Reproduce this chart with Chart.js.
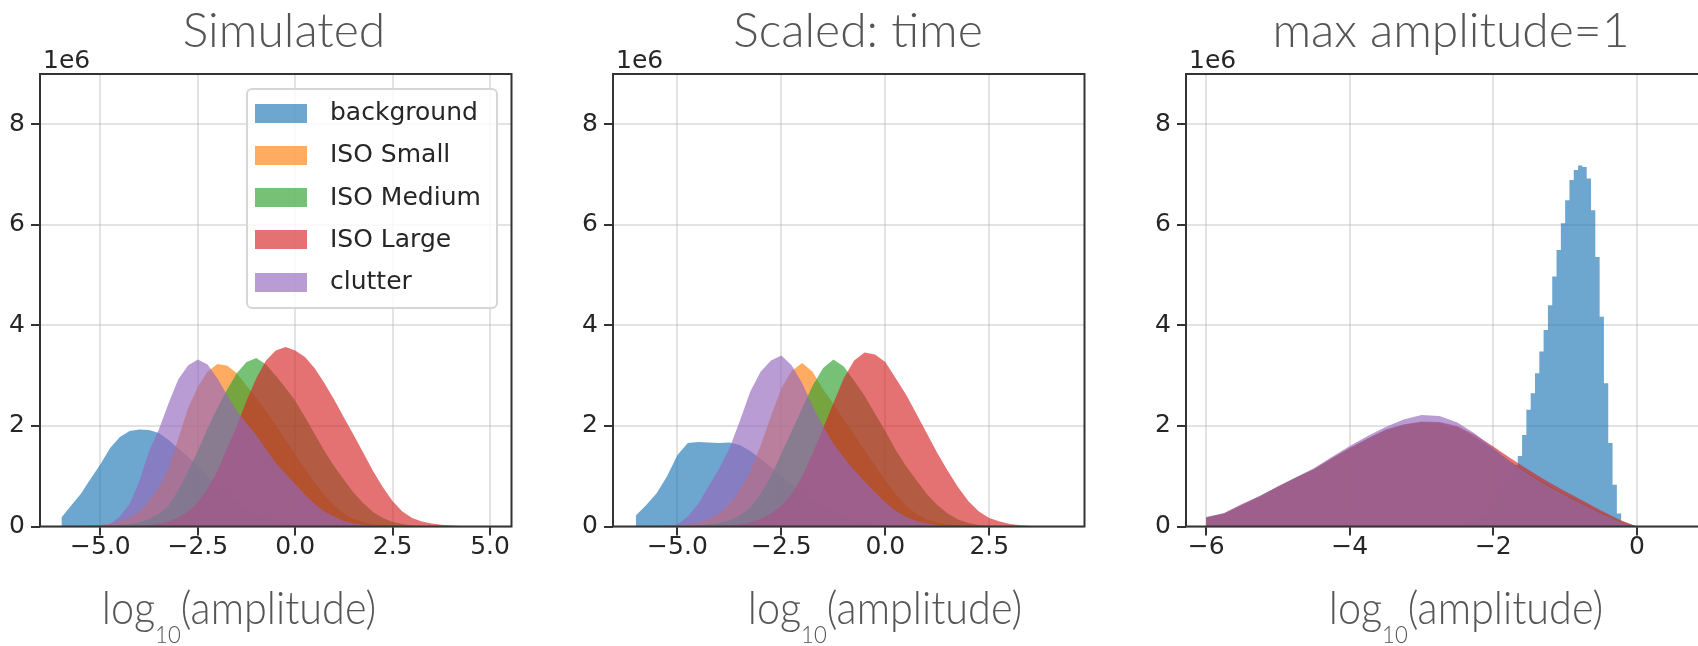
<!DOCTYPE html>
<html>
<head>
<meta charset="utf-8">
<script src="https://cdn.jsdelivr.net/npm/chart.js@4.4.1/dist/chart.umd.min.js"></script>
<style>
  html, body { margin: 0; padding: 0; background: #fff; overflow: hidden; }
  body { width: 1698px; height: 646px; position: relative; }
  canvas { position: absolute; top: 0; }
  .title, .xlabel {
    position: absolute; white-space: nowrap;
    font-family: "Lato", "Open Sans", sans-serif; font-weight: 300; color: #555;
  }
  .title { top: 5px; font-size: 48px; line-height: 48px; transform: translateX(-50%); }
  .xlabel { top: 585px; font-size: 45px; line-height: 45px; transform: translateX(-50%) scaleX(0.92); }
  .xlabel sub { font-size: 24px; line-height: 0; vertical-align: -19px; }
  .offset {
    position: absolute; top: 47px; font-family: "DejaVu Sans"; font-size: 25px;
    line-height: 25px; color: #262626;
  }
  #legend {
    position: absolute; left: 246px; top: 88px; width: 252px; height: 221px;
    box-sizing: border-box; border: 2px solid #d6d6d6; border-radius: 6px;
    background: rgba(255,255,255,0.8);
  }
  #legend .sw { position: absolute; left: 7px; width: 52px; height: 19px; }
  #legend .lb {
    position: absolute; left: 82px; font-family: "DejaVu Sans"; font-size: 25px;
    line-height: 30px; color: #262626; white-space: nowrap;
  }
</style>
</head>
<body>
<canvas id="sim" width="566" height="646" style="left:0px"></canvas>
<canvas id="time" width="566" height="646" style="left:566px"></canvas>
<canvas id="maxamp" width="580" height="646" style="left:1132px"></canvas>

<div class="title" style="left:284px">Simulated</div>
<div class="title" style="left:858px">Scaled: time</div>
<div class="title" style="left:1451px">max amplitude=1</div>

<div class="offset" style="left:43px">1e6</div>
<div class="offset" style="left:616px">1e6</div>
<div class="offset" style="left:1189px">1e6</div>

<div class="xlabel" style="left:239px">log<sub>10</sub>(amplitude)</div>
<div class="xlabel" style="left:885px">log<sub>10</sub>(amplitude)</div>
<div class="xlabel" style="left:1466px">log<sub>10</sub>(amplitude)</div>

<div id="legend"></div>

<script>
// counts in units of 1e6, bin centres in log10(amplitude)
const labels = ['background', 'ISO Small', 'ISO Medium', 'ISO Large', 'clutter'];
const colors = ['rgba(31,119,180,0.65)', 'rgba(255,127,14,0.65)', 'rgba(44,160,44,0.65)',
                'rgba(214,39,40,0.65)', 'rgba(148,103,189,0.65)'];

const bins = [-6.0, -5.75, -5.5, -5.25, -5.0, -4.75, -4.5, -4.25, -4.0, -3.75, -3.5, -3.25,
              -3.0, -2.75, -2.5, -2.25, -2.0, -1.75, -1.5, -1.25, -1.0, -0.75, -0.5, -0.25,
              0.0, 0.25, 0.5, 0.75, 1.0, 1.25, 1.5, 1.75, 2.0, 2.25, 2.5, 2.75, 3.0, 3.25,
              3.5, 3.75, 4.0, 4.25, 4.5, 4.75, 5.0];

// Simulated
const simBackground = [0.18, 0.42, 0.65, 0.95, 1.24, 1.56, 1.78, 1.90, 1.93, 1.92, 1.86, 1.72,
                       1.55, 1.38, 1.20, 1.00, 0.82, 0.65, 0.50, 0.37, 0.27, 0.18, 0.12, 0.08,
                       0.05, 0.03, 0.02, 0.01, 0];
const simSmall = [0, 0, 0.01, 0.02, 0.03, 0.05, 0.10, 0.18, 0.30, 0.50, 0.78, 1.15,
                  1.75, 2.35, 2.78, 3.08, 3.23, 3.20, 3.05, 2.80, 2.56, 2.30, 2.02, 1.73,
                  1.44, 1.15, 0.87, 0.62, 0.42, 0.26, 0.15, 0.09, 0.05, 0.03, 0.01, 0];
const simMedium = [0, 0, 0, 0, 0.01, 0.02, 0.03, 0.05, 0.08, 0.15, 0.25, 0.42,
                   0.72, 1.10, 1.50, 1.95, 2.35, 2.72, 3.05, 3.27, 3.35, 3.22, 3.00, 2.76,
                   2.50, 2.18, 1.84, 1.50, 1.20, 0.93, 0.67, 0.46, 0.29, 0.17, 0.09, 0.05,
                   0.02, 0.01, 0];
const simLarge = [0, 0, 0, 0, 0, 0, 0, 0, 0.01, 0.03, 0.06, 0.10,
                  0.18, 0.30, 0.48, 0.75, 1.10, 1.55, 2.00, 2.50, 2.95, 3.30, 3.50, 3.57,
                  3.50, 3.37, 3.15, 2.85, 2.52, 2.17, 1.82, 1.46, 1.10, 0.78, 0.50, 0.30,
                  0.17, 0.10, 0.06, 0.035, 0.02, 0.008, 0];
const simClutter = [0, 0.01, 0.01, 0.02, 0.03, 0.05, 0.20, 0.45, 0.90, 1.50, 1.93, 2.45,
                    2.93, 3.20, 3.32, 3.22, 2.95, 2.62, 2.30, 2.05, 1.82, 1.53, 1.27, 1.05,
                    0.84, 0.63, 0.45, 0.30, 0.20, 0.11, 0.06, 0.03, 0.015, 0.005, 0];

// Scaled: time
const timeBackground = [0.22, 0.43, 0.66, 1.00, 1.42, 1.66, 1.68, 1.67, 1.66, 1.67, 1.62, 1.50,
                        1.35, 1.18, 1.00, 0.83, 0.67, 0.52, 0.40, 0.30, 0.21, 0.14, 0.09, 0.06,
                        0.04, 0.02, 0.01, 0];
const timeSmall = [0, 0, 0, 0.01, 0.02, 0.04, 0.08, 0.15, 0.27, 0.45, 0.72, 1.10,
                   1.60, 2.20, 2.75, 3.10, 3.25, 3.08, 2.73, 2.44, 2.13, 1.83, 1.52, 1.22,
                   0.92, 0.64, 0.42, 0.25, 0.14, 0.08, 0.04, 0.02, 0.01, 0];
const timeMedium = [0, 0, 0, 0, 0, 0.01, 0.02, 0.04, 0.07, 0.12, 0.22, 0.38,
                    0.65, 1.00, 1.45, 1.90, 2.35, 2.80, 3.15, 3.32, 3.18, 2.90, 2.60, 2.25,
                    1.90, 1.52, 1.20, 0.92, 0.64, 0.43, 0.26, 0.14, 0.07, 0.03, 0.01, 0];
const timeLarge = [0, 0, 0, 0, 0, 0, 0, 0, 0.01, 0.02, 0.04, 0.08,
                   0.15, 0.26, 0.42, 0.65, 1.00, 1.45, 1.95, 2.45, 2.95, 3.30, 3.46, 3.42,
                   3.27, 2.95, 2.62, 2.24, 1.85, 1.46, 1.11, 0.78, 0.50, 0.30, 0.17, 0.10,
                   0.05, 0.025, 0.01, 0];
const timeClutter = [0, 0.01, 0.01, 0.02, 0.04, 0.20, 0.45, 0.80, 1.15, 1.55, 2.10, 2.68,
                     3.08, 3.30, 3.40, 3.20, 2.85, 2.40, 2.00, 1.65, 1.37, 1.12, 0.90, 0.68,
                     0.48, 0.31, 0.19, 0.11, 0.06, 0.03, 0.015, 0.005, 0];

// max amplitude=1
const binsMax = [-6.0, -5.75, -5.5, -5.25, -5.0, -4.75, -4.5, -4.25, -4.0, -3.75, -3.5, -3.25,
                 -3.0, -2.75, -2.5, -2.25, -2.0, -1.75, -1.5, -1.25, -1.0, -0.75, -0.5, -0.25, 0.0];
const maxSmall = [0.17, 0.25, 0.42, 0.59, 0.78, 0.96, 1.13, 1.34, 1.55, 1.73, 1.90, 2.01,
                  2.06, 2.05, 1.96, 1.77, 1.53, 1.27, 1.04, 0.82, 0.63, 0.45, 0.27, 0.11, 0];
const maxMedium = [0.18, 0.26, 0.43, 0.60, 0.79, 0.97, 1.14, 1.35, 1.56, 1.75, 1.92, 2.03,
                   2.08, 2.07, 1.98, 1.78, 1.54, 1.28, 1.05, 0.83, 0.64, 0.46, 0.28, 0.12, 0];
const maxLarge = [0.18, 0.26, 0.44, 0.60, 0.79, 0.97, 1.14, 1.36, 1.56, 1.75, 1.93, 2.03,
                  2.09, 2.08, 2.00, 1.82, 1.59, 1.35, 1.12, 0.90, 0.70, 0.51, 0.32, 0.14, 0];
const maxClutter = [0.19, 0.27, 0.45, 0.61, 0.80, 0.98, 1.16, 1.38, 1.60, 1.80, 1.98, 2.13,
                    2.22, 2.20, 2.07, 1.84, 1.56, 1.27, 1.03, 0.81, 0.62, 0.44, 0.26, 0.10, 0];
// narrow background peak, left bin edges (bin width 0.06)
const edgesMaxBg = [-2.44, -2.38, -2.32, -2.26, -2.20, -2.14, -2.08, -2.02, -1.96, -1.90,
                    -1.84, -1.78, -1.72, -1.66, -1.60, -1.54, -1.48, -1.42, -1.36, -1.30,
                    -1.24, -1.18, -1.12, -1.06, -1.00, -0.94, -0.88, -0.82, -0.76, -0.70,
                    -0.64, -0.58, -0.52, -0.46, -0.40, -0.34, -0.28, -0.22, -0.16, -0.10, -0.04];
const maxBackground = [0.02, 0.04, 0.06, 0.09, 0.13, 0.18, 0.25, 0.33, 0.43, 0.55,
                       0.69, 0.85, 1.03, 1.22, 1.40, 1.82, 2.32, 2.65, 3.05, 3.48,
                       3.91, 4.40, 4.97, 5.50, 6.03, 6.49, 6.89, 7.09, 7.18, 7.15,
                       6.92, 6.29, 5.36, 4.17, 2.85, 1.66, 0.83, 0.26, 0.07, 0.02, 0];

const yTicks = [0, 2, 4, 6, 8];
const ticksSim = [-5, -2.5, 0, 2.5, 5];
const ticksTime = [-5, -2.5, 0, 2.5];
const ticksMax = [-6, -4, -2, 0];

const frame = {
    id: 'frame',
    afterDraw(chart) {
        const { ctx, chartArea: a } = chart;
        ctx.save();
        ctx.strokeStyle = '#333';
        ctx.lineWidth = 2;
        ctx.strokeRect(a.left, a.top, a.right - a.left, a.bottom - a.top);
        ctx.restore();
    }
};

function series(xs, ys, i, stepped) {
    return {
        label: labels[i],
        data: ys.map((y, k) => ({ x: xs[k], y })),
        backgroundColor: colors[i],
        borderColor: 'rgba(0,0,0,0)',
        borderWidth: 0,
        pointRadius: 0,
        fill: 'origin',
        tension: 0,
        stepped: stepped ? 'after' : false,
        order: 5 - i
    };
}

function makeChart(id, datasets, xmin, xmax, xticks, decimals, yWidth, padRight) {
    const tickFont = { family: 'DejaVu Sans', size: 25 };
    const gridCfg = {
        color: 'rgba(176,176,176,0.35)', lineWidth: 2,
        tickColor: '#333', tickWidth: 2, tickLength: 9
    };
    return new Chart(document.getElementById(id), {
        type: 'line',
        data: { datasets },
        options: {
            responsive: false,
            animation: false,
            layout: { padding: { top: 74, right: padRight, bottom: 59.5, left: 0 } },
            plugins: { legend: { display: false }, tooltip: { enabled: false } },
            scales: {
                x: {
                    type: 'linear', min: xmin, max: xmax, z: 1,
                    afterBuildTicks: s => { s.ticks = xticks.map(v => ({ value: v })); },
                    afterFit: s => { s.height = 60; },
                    grid: gridCfg,
                    border: { display: false },
                    ticks: {
                        font: tickFont, color: '#262626', padding: -3, maxRotation: 0,
                        callback: v => v.toFixed(decimals).replace('-', '\u2212')
                    }
                },
                y: {
                    type: 'linear', min: 0, max: 9, z: 1,
                    afterBuildTicks: s => { s.ticks = yTicks.map(v => ({ value: v })); },
                    afterFit: s => { s.width = yWidth; },
                    grid: gridCfg,
                    border: { display: false },
                    ticks: { font: tickFont, color: '#262626', padding: 6, callback: v => String(v) }
                }
            }
        },
        plugins: [frame]
    });
}

makeChart('sim', [
    series(bins, simBackground, 0),
    series(bins, simSmall, 1),
    series(bins, simMedium, 2),
    series(bins, simLarge, 3),
    series(bins, simClutter, 4)
], -6.55, 5.55, ticksSim, 1, 40, 54.5);

makeChart('time', [
    series(bins, timeBackground, 0),
    series(bins, timeSmall, 1),
    series(bins, timeMedium, 2),
    series(bins, timeLarge, 3),
    series(bins, timeClutter, 4)
], -6.55, 4.79, ticksTime, 1, 47, 47.5);

makeChart('maxamp', [
    series(edgesMaxBg, maxBackground, 0, true),
    series(binsMax, maxSmall, 1),
    series(binsMax, maxMedium, 2),
    series(binsMax, maxLarge, 3),
    series(binsMax, maxClutter, 4)
], -6.28, 0.9, ticksMax, 0, 54, 10.4);

// legend inside the first panel
const legend = document.getElementById('legend');
labels.forEach((name, i) => {
    const cy = 23 + 42.25 * i;
    const sw = document.createElement('div');
    sw.className = 'sw';
    sw.style.top = (cy - 9.5) + 'px';
    sw.style.background = colors[i];
    const lb = document.createElement('div');
    lb.className = 'lb';
    lb.style.top = (cy - 16) + 'px';
    lb.textContent = name;
    legend.appendChild(sw);
    legend.appendChild(lb);
});
</script>
</body>
</html>
